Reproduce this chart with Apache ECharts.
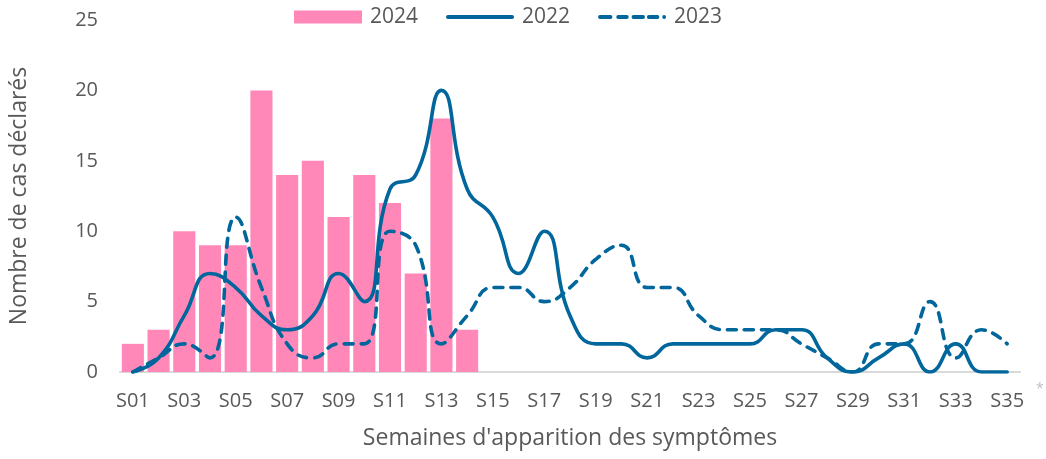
<!DOCTYPE html>
<html>
<head>
<meta charset="utf-8">
<script src="https://cdn.jsdelivr.net/npm/echarts@6/dist/echarts.min.js"></script>
<style>html,body{margin:0;padding:0;background:#fff}#c{width:1046px;height:459px}</style>
</head>
<body>
<div id="c"></div>
<script>
const weeks = ['S01','S02','S03','S04','S05','S06','S07','S08','S09','S10','S11','S12','S13','S14','S15','S16','S17','S18','S19','S20','S21','S22','S23','S24','S25','S26','S27','S28','S29','S30','S31','S32','S33','S34','S35'];
const cases2024 = [2,3,10,9,9,20,14,15,11,14,12,7,18,3];
const cases2022 = [0,1,4,7,6,4,3,4,7,5,13,14,20,13,11,7,10,4,2,2,1,2,2,2,2,3,3,1,0,1,2,0,2,0,0];
const cases2023 = [0,1,2,1,11,6,2,1,2,2,10,9,2,4,6,6,5,6,8,9,6,6,4,3,3,3,2,1,0,2,2,5,1,3,2];
const yTicks = [0,5,10,15,20,25];

const FONT = '"Open Sans", "Noto Sans", sans-serif';
const GREY = '#595959';
const BLUE = '#00669B';
const PINK = '#FF88B9';

const solidIcon = 'path://M2,0H68A2,2 0 0 1 68,4H2A2,2 0 0 1 2,0Z';
const dashIcon = 'path://M2,0H13A2,2 0 0 1 13,4H2A2,2 0 0 1 2,0Z' +
  'M21,0H30A2,2 0 0 1 30,4H21A2,2 0 0 1 21,0Z' +
  'M37,0H47A2,2 0 0 1 47,4H37A2,2 0 0 1 37,0Z' +
  'M53,0H62A2,2 0 0 1 62,4H53A2,2 0 0 1 53,0Z' +
  'M69,0A2,2 0 0 1 69,4A2,2 0 0 1 69,0Z';

const chart = echarts.init(document.getElementById('c'), null, {renderer: 'canvas'});
chart.setOption({
  animation: false,
  textStyle: {fontFamily: FONT},
  grid: {left: 120, right: 26, top: 20, bottom: 87},
  legend: {
    left: 294, top: 6, padding: 0,
    itemWidth: 68, itemHeight: 13, itemGap: 28,
    textStyle: {color: GREY, fontSize: 21, lineHeight: 22, fontFamily: FONT, padding: [0, 0, 0, 3]},
    data: [
      {name: '2024', icon: 'rect'},
      {name: '2022', icon: solidIcon},
      {name: '2023', icon: dashIcon}
    ]
  },
  xAxis: {
    type: 'category',
    data: weeks,
    name: "Semaines d'apparition des symptômes",
    nameLocation: 'middle',
    nameGap: 55,
    nameTextStyle: {color: GREY, fontSize: 23, fontFamily: FONT},
    axisLine: {lineStyle: {color: '#D9D9D9', width: 2}},
    axisTick: {show: false},
    axisLabel: {interval: 1, color: GREY, fontSize: 20, margin: 19, fontFamily: FONT}
  },
  yAxis: {
    type: 'value',
    min: yTicks[0], max: yTicks[yTicks.length - 1], interval: 5,
    name: 'Nombre de cas déclarés',
    nameLocation: 'middle',
    nameGap: 89,
    nameTextStyle: {color: GREY, fontSize: 23, fontFamily: FONT},
    axisLine: {show: false},
    axisTick: {show: false},
    splitLine: {show: false},
    axisLabel: {color: GREY, fontSize: 20, margin: 22, fontFamily: FONT}
  },
  series: [
    {
      name: '2024', type: 'bar', data: cases2024,
      barCategoryGap: '14%',
      itemStyle: {color: PINK},
      z: 1
    },
    {
      name: '2022', type: 'line', data: cases2022,
      smooth: 0.5, symbol: 'none',
      lineStyle: {color: BLUE, width: 3.6, cap: 'round', join: 'round'},
      itemStyle: {color: BLUE},
      z: 3
    },
    {
      name: '2023', type: 'line', data: cases2023,
      smooth: 0.5, symbol: 'none',
      lineStyle: {color: BLUE, width: 3.6, type: [9, 8], cap: 'round', join: 'round'},
      itemStyle: {color: BLUE},
      z: 2
    }
  ],
  graphic: [
    {type: 'text', left: 1036, top: 382, style: {text: '*', fill: '#BFBFBF', font: '14px ' + FONT}}
  ]
});
</script>
</body>
</html>
